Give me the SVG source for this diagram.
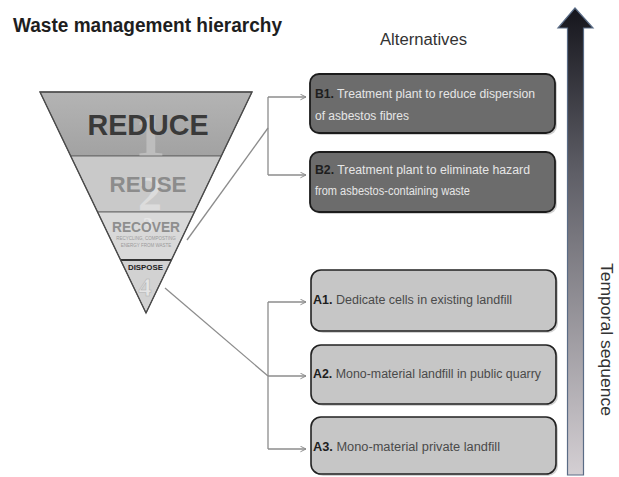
<svg xmlns="http://www.w3.org/2000/svg" width="619" height="477" viewBox="0 0 619 477">
<defs>
<style>
.t{font-family:"Liberation Sans",Arial,sans-serif}
.band{stroke:#6a6a6a;stroke-width:1}
.boxB{fill:#6c6c6c;stroke:#1c1c1c;stroke-width:1.8}
.boxA{fill:#c6c6c6;stroke:#222;stroke-width:1.6}
.shadow{fill:#000;opacity:0.18}
.lbl{font-family:"Liberation Sans",Arial,sans-serif;font-size:12px}
.lblB{fill:#e6e6e6}
.lblA{fill:#4a4a4a}
.key{font-weight:bold;fill:#1e1e1e}
.conn{fill:none;stroke:#8c8c8c;stroke-width:1.3}
.num{font-family:"Liberation Serif",serif;font-weight:bold;text-anchor:middle}
</style>
<marker id="chev" viewBox="0 0 10 10" refX="9" refY="5" markerWidth="7" markerHeight="7" orient="auto" markerUnits="userSpaceOnUse">
<path d="M1,1 L9,5 L1,9" fill="none" stroke="#8c8c8c" stroke-width="1.4"/>
</marker>
<linearGradient id="arrowGrad" x1="0" y1="8" x2="0" y2="475" gradientUnits="userSpaceOnUse">
<stop offset="0" stop-color="#15151c"/>
<stop offset="0.35" stop-color="#5e5e66"/>
<stop offset="1" stop-color="#d4cfd3"/>
</linearGradient>
<linearGradient id="reduceGrad" x1="0" y1="0" x2="0" y2="1">
<stop offset="0" stop-color="#b4b4b4"/>
<stop offset="1" stop-color="#a2a2a2"/>
</linearGradient>
</defs>
<rect width="619" height="477" fill="#ffffff"/>

<text class="t" x="13" y="32" font-size="20" font-weight="bold" fill="#1e1e1e" textLength="269" lengthAdjust="spacingAndGlyphs">Waste management hierarchy</text>
<text class="t" x="380" y="45" font-size="16" fill="#333" textLength="87" lengthAdjust="spacingAndGlyphs">Alternatives</text>

<g id="hierarchy">
<g id="reduce">
<polygon class="band" points="40,92 252,92 221.3,156 70.7,156" fill="url(#reduceGrad)"/>
<text class="num" x="150" y="156" font-size="62" fill="#bdbdbd">1</text>
<text class="t" x="148" y="135" font-size="30" font-weight="bold" fill="#3a3a3a" text-anchor="middle" textLength="121" lengthAdjust="spacingAndGlyphs">REDUCE</text>
</g>
<g id="reuse">
<polygon class="band" points="70.7,156 221.3,156 194.4,212 97.6,212" fill="#c9c9c9"/>
<text class="num" x="150" y="210" font-size="48" fill="#dcdcdc">2</text>
<text class="t" x="148" y="192" font-size="22" font-weight="bold" fill="#8c8c8c" text-anchor="middle" textLength="77" lengthAdjust="spacingAndGlyphs">REUSE</text>
</g>
<g id="recover">
<polygon class="band" points="97.6,212 194.4,212 171.4,260 120.6,260" fill="#d9d9d9"/>
<text class="num" x="148" y="232" font-size="20" fill="#e6e6e6">3</text>
<text class="t" x="146" y="232" font-size="14" font-weight="bold" fill="#8e8e8e" text-anchor="middle" textLength="68" lengthAdjust="spacingAndGlyphs">RECOVER</text>
<text class="t" x="146" y="240" font-size="4.5" fill="#9a9a9a" text-anchor="middle">RECYCLING, COMPOSTING</text>
<text class="t" x="146" y="247" font-size="4.5" fill="#9a9a9a" text-anchor="middle">ENERGY FROM WASTE</text>
</g>
<g id="dispose">
<polygon points="120.6,260 171.4,260 146,313" fill="#d2d2d2" stroke="#555" stroke-width="1"/>
<line x1="120.6" y1="260" x2="171.4" y2="260" stroke="#333" stroke-width="2"/>
<text class="num" x="145" y="296" font-size="26" fill="#e4e4e4" stroke="#b0b0b0" stroke-width="0.5">4</text>
<text class="t" x="145.5" y="270" font-size="8" font-weight="bold" fill="#222" text-anchor="middle" textLength="35" lengthAdjust="spacingAndGlyphs">DISPOSE</text>
</g>
<polygon points="40,92 252,92 146,313" fill="none" stroke="#4a4a4a" stroke-width="1.4"/>
</g>

<g id="connectors">
<path class="conn" d="M187,240 L268,128"/>
<path class="conn" d="M268,97 L268,175"/>
<path class="conn" d="M268,97 L306,97" marker-end="url(#chev)"/>
<path class="conn" d="M268,175 L306,175" marker-end="url(#chev)"/>
<path class="conn" d="M165,288 L268,376"/>
<path class="conn" d="M268,302 L268,449"/>
<path class="conn" d="M268,302 L306,302" marker-end="url(#chev)"/>
<path class="conn" d="M268,376 L306,376" marker-end="url(#chev)"/>
<path class="conn" d="M268,449 L306,449" marker-end="url(#chev)"/>
</g>

<g id="B1">
<rect class="shadow" x="312" y="76" width="245" height="59" rx="9"/>
<rect class="boxB" x="310" y="74" width="245" height="59" rx="9"/>
<text class="lbl lblB" x="315" y="98" textLength="220" lengthAdjust="spacingAndGlyphs"><tspan class="key">B1.</tspan> Treatment plant to reduce dispersion</text>
<text class="lbl lblB" x="315" y="120" textLength="94" lengthAdjust="spacingAndGlyphs">of asbestos fibres</text>
</g>
<g id="B2">
<rect class="shadow" x="312" y="154" width="245" height="60" rx="9"/>
<rect class="boxB" x="310" y="152" width="245" height="60" rx="9"/>
<text class="lbl lblB" x="315" y="174" textLength="215" lengthAdjust="spacingAndGlyphs"><tspan class="key">B2.</tspan> Treatment plant to eliminate hazard</text>
<text class="lbl lblB" x="315" y="195" textLength="155" lengthAdjust="spacingAndGlyphs">from asbestos-containing waste</text>
</g>

<g id="A1">
<rect class="shadow" x="313" y="272" width="245" height="61" rx="10"/>
<rect class="boxA" x="311" y="270" width="245" height="61" rx="10"/>
<text class="lbl lblA" x="313" y="304" textLength="199" lengthAdjust="spacingAndGlyphs"><tspan class="key">A1.</tspan> Dedicate cells in existing landfill</text>
</g>
<g id="A2">
<rect class="shadow" x="313" y="347" width="245" height="59" rx="10"/>
<rect class="boxA" x="311" y="345" width="245" height="59" rx="10"/>
<text class="lbl lblA" x="313" y="378" textLength="228" lengthAdjust="spacingAndGlyphs"><tspan class="key">A2.</tspan> Mono-material landfill in public quarry</text>
</g>
<g id="A3">
<rect class="shadow" x="313" y="419" width="245" height="57" rx="10"/>
<rect class="boxA" x="311" y="417" width="245" height="57" rx="10"/>
<text class="lbl lblA" x="313" y="451" textLength="187" lengthAdjust="spacingAndGlyphs"><tspan class="key">A3.</tspan> Mono-material private landfill</text>
</g>

<g id="temporal">
<path d="M575,8 L593,28 L583.5,28 L583.5,475 L567.5,475 L567.5,28 L558,28 Z" fill="url(#arrowGrad)" stroke="#5a6c86" stroke-width="1.2"/>
<text class="t" transform="translate(601,263) rotate(90)" x="0" y="0" font-size="16" fill="#333" textLength="153" lengthAdjust="spacingAndGlyphs">Temporal sequence</text>
</g>
</svg>
